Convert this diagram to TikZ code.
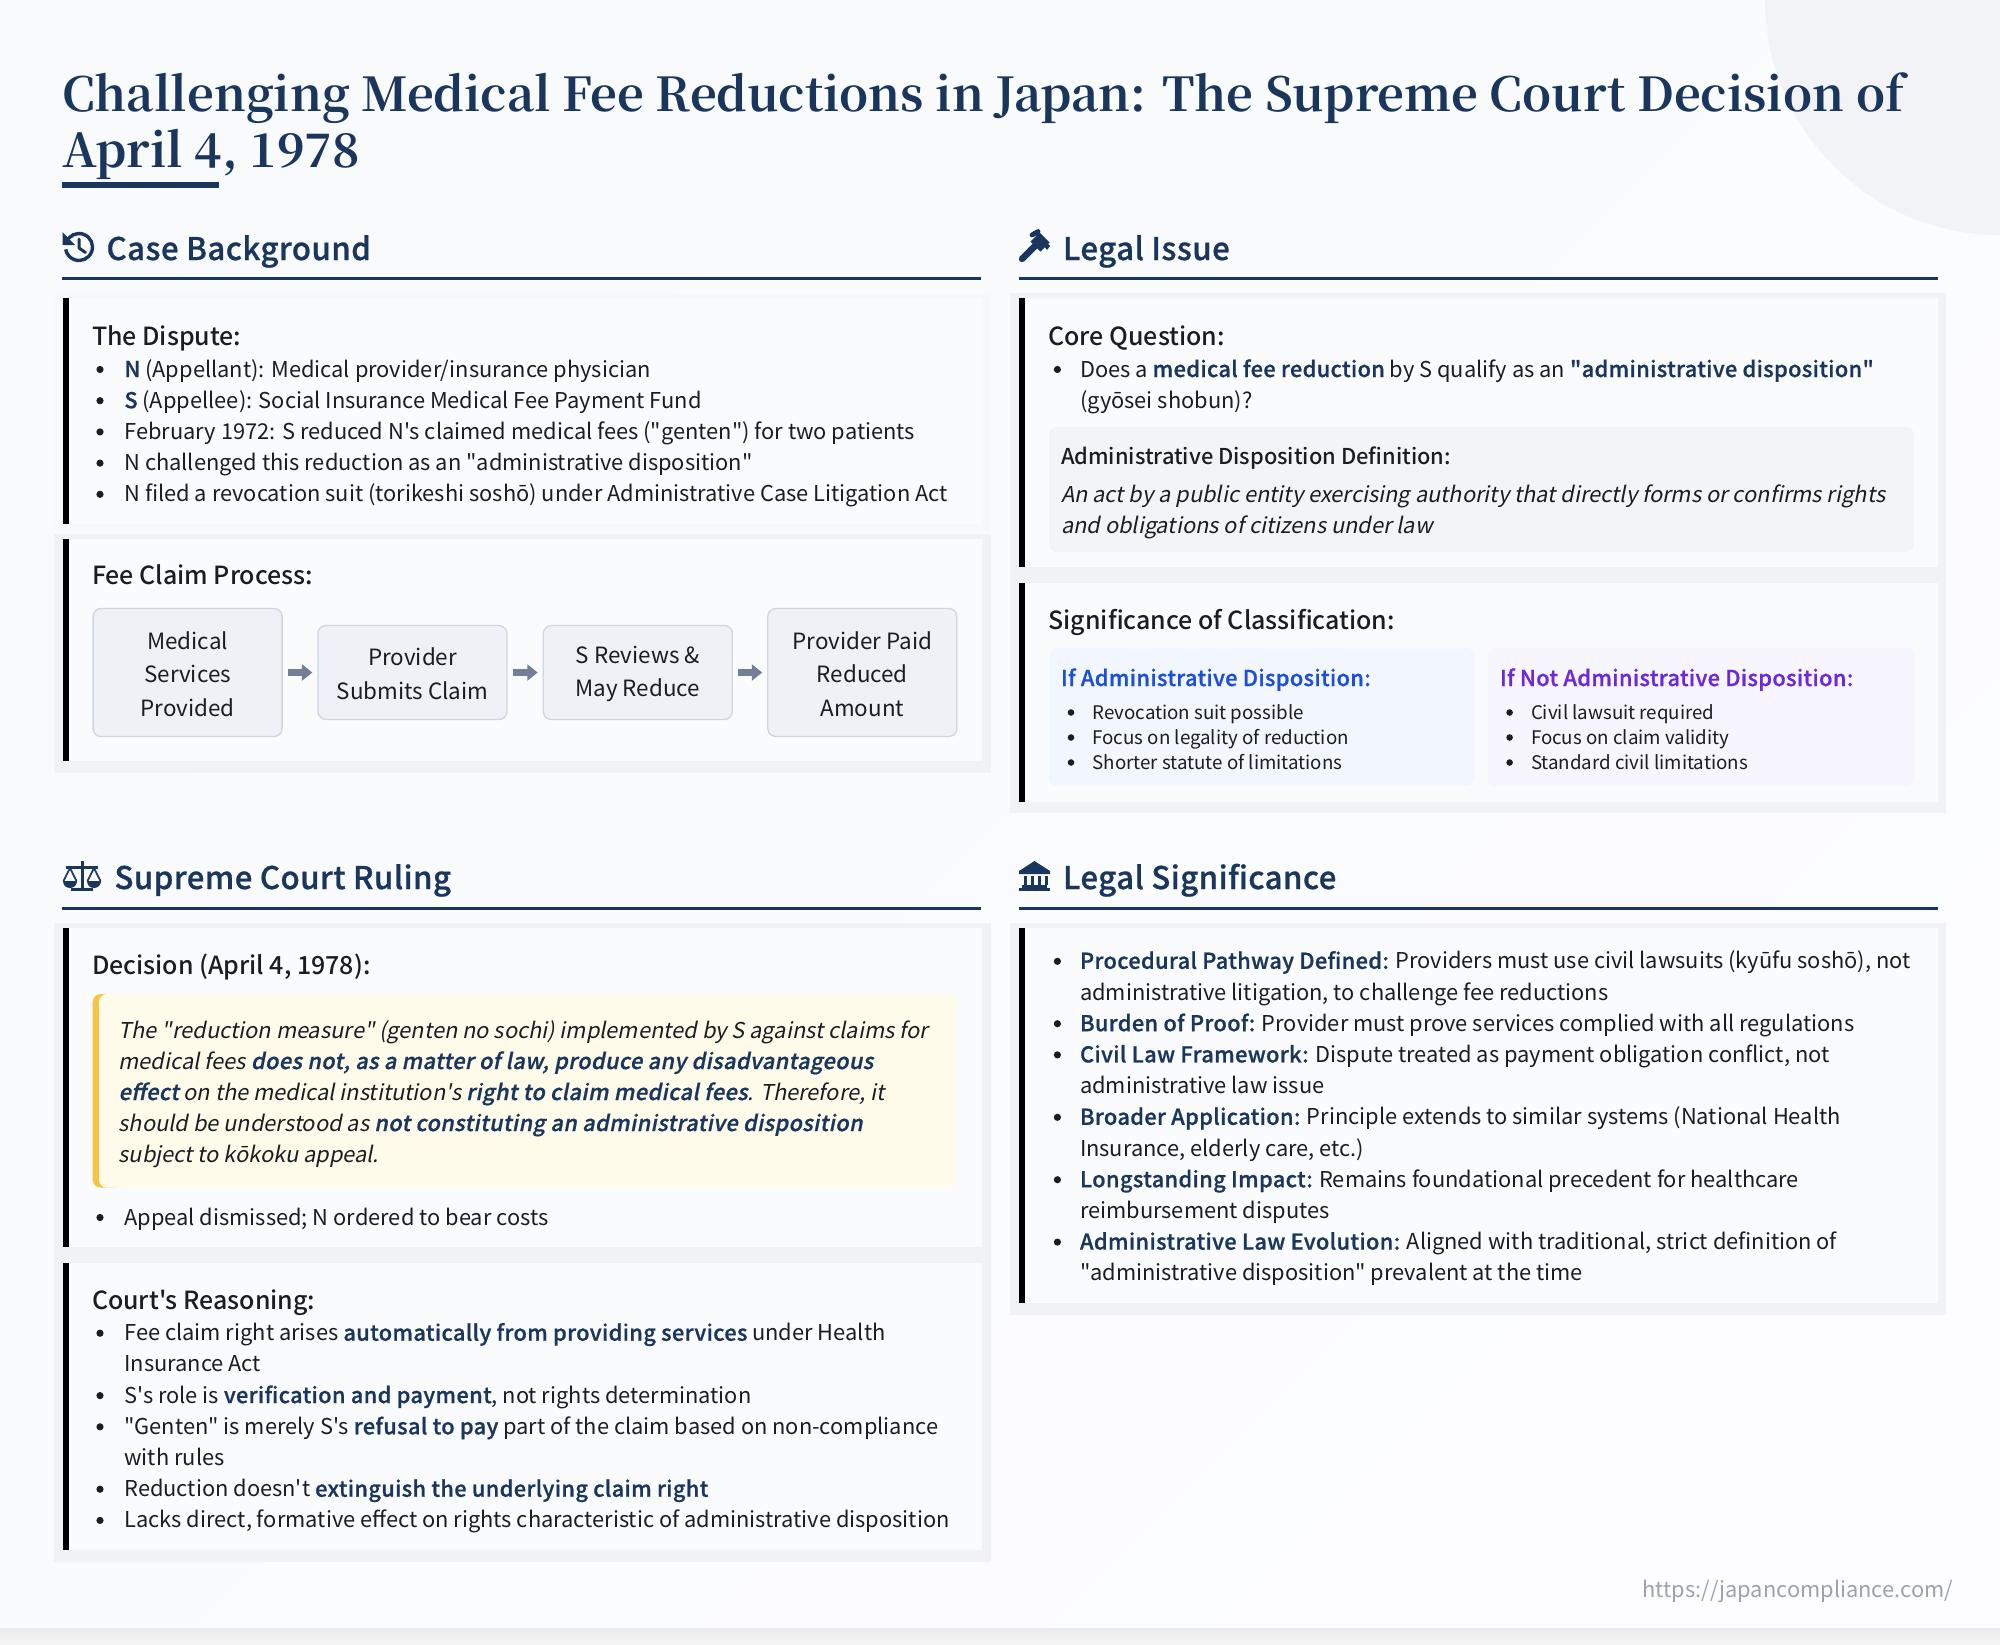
\documentclass[tikz,border=0pt]{standalone}
\usepackage{fontspec}
\usetikzlibrary{arrows.meta}
\newfontfamily\bodyf{Noto Sans CJK JP}
\newfontfamily\itf[FakeSlant=0.2]{Noto Sans CJK JP}
\newfontfamily\mdf{Noto Sans CJK JP Medium}
\newfontfamily\sbf[FakeBold=0.8,LetterSpace=1.5]{Noto Sans CJK JP Medium}
\newfontfamily\sbfit[FakeBold=0.8,FakeSlant=0.2,LetterSpace=1.5]{Noto Sans CJK JP Medium}
\newfontfamily\titf{Noto Serif CJK JP Bold}
\definecolor{navy}{HTML}{1A365D}
\definecolor{ink}{HTML}{1A1D21}
\definecolor{bgA}{HTML}{F8FAFC}
\definecolor{bgB}{HTML}{FDFDFF}
\definecolor{deco}{HTML}{F1F3F7}
\definecolor{band}{HTML}{F1F2F4}
\definecolor{bandl}{HTML}{F7F8FA}
\definecolor{inner}{HTML}{FAFBFC}
\definecolor{flowfill}{HTML}{EEF1F5}
\definecolor{flowline}{HTML}{CFD6E2}
\definecolor{flowarr}{HTML}{718096}
\definecolor{defbg}{HTML}{F3F4F6}
\definecolor{bluebg}{HTML}{F2F6FE}
\definecolor{purpbg}{HTML}{F7F5FE}
\definecolor{bluet}{HTML}{1D4ED8}
\definecolor{purpt}{HTML}{6D28D9}
\definecolor{quotebg}{HTML}{FFFBEB}
\definecolor{quotebar}{HTML}{F6C344}
\definecolor{urlc}{HTML}{9CA3AF}
\tikzset{
  x=0.5pt,y=-0.5pt,
  txt/.style={inner sep=0pt,outer sep=0pt,anchor=base west,text=ink},
  body/.style={txt,font=\bodyf\fontsize{10.92}{15.6}\selectfont},
  slant/.style={txt,font=\itf\fontsize{10.92}{15.6}\selectfont},
  subhead/.style={txt,font=\mdf\fontsize{12.48}{16}\selectfont},
  defhead/.style={txt,font=\mdf\fontsize{10.92}{15.6}\selectfont},
  small/.style={txt,font=\bodyf\fontsize{9.36}{12.5}\selectfont},
  sechead/.style={txt,text=navy,font=\sbf\fontsize{15.6}{20}\selectfont},
  title/.style={txt,text=navy,font=\titf\fontsize{23.37}{28}\selectfont},
  cmphead/.style={txt,font=\sbf\fontsize{10.92}{15.6}\selectfont},
  urlt/.style={txt,anchor=base east,text=urlc,font=\bodyf\fontsize{10.92}{15.6}\selectfont},
  flowbox/.style={draw=flowline,fill=flowfill,line width=0.65pt,rounded corners=4pt,
    inner sep=0pt,minimum width=94.5pt},
  flowtext/.style={inner sep=0pt,align=center,text=ink,yshift=-0.75pt,
    font=\bodyf\fontsize{11.2}{16.8}\selectfont},
  flowarrow/.style={draw=flowarr,line width=3.6pt,-{Triangle[width=8pt,length=5.2pt]},shorten <=2.5pt,shorten >=2.5pt},
}
\newcounter{tn}
\newcommand\Tx[4][body]{\stepcounter{tn}\node[#1] (t\number\value{tn}) at (#2,#3) {#4};}
\newcommand\Ln[5][body]{\fill[ink] (#2,#4-7.5) circle (3.6);\Tx[#1]{#3}{#4}{#5}}
\newcommand\SLn[5][small]{\fill[ink] (#2,#4-6.5) circle (3.3);\Tx[#1]{#3}{#4}{#5}}
\newcommand\B[1]{\textcolor{navy}{\sbf #1}}
\newcommand\BI[1]{\textcolor{navy}{\sbfit #1}}
\newcommand\Card[6]{%band color, x0,y0(top band), x1, ybottom inner, ybottom band
  \fill[#1] (#2-9,#3-5) rectangle (#4+8.5,#6);
  \fill[inner] (#2,#3) rectangle (#4,#5);
  \fill[black] (#2,#3) rectangle (#2+6,#5);
}
\begin{document}
\begin{tikzpicture}
\useasboundingbox (0,0) rectangle (2000,1644);
\clip (0,0) rectangle (2000,1644);
\shade[left color=bgA,right color=bgB,shading angle=45] (0,0) rectangle (2000,1644);
\fill[deco] (2000,0) circle (235);
\shade[top color=black!8,bottom color=bgB!97!black] (0,1628) rectangle (2000,1644);

% title
\Tx[title]{62}{111}{Challenging Medical Fee Reductions in Japan: The Supreme Court Decision of}
\Tx[title]{62}{167}{April 4, 1978}
\fill[navy] (62,182) rectangle (219,188);

% section rules and heads
\Tx[sechead]{106.5}{260}{Case Background}
\fill[navy] (62,277) rectangle (981,280);
\Tx[sechead]{1063}{260}{Legal Issue}
\fill[navy] (1019,277) rectangle (1937.5,280);
\Tx[sechead]{114.5}{889}{Supreme Court Ruling}
\fill[navy] (62,907) rectangle (981,910);
\Tx[sechead]{1063}{889}{Legal Significance}
\fill[navy] (1019,907) rectangle (1937.5,910);

% icon: history
\draw[navy,line width=1.7pt] (79,247) ++(-160:13.5) arc[start angle=-160,end angle=170,radius=13.5];
\fill[navy] (62.5,232) -- (62.5,245) -- (75,245) -- cycle;
\draw[navy,line width=1.5pt,line cap=round,line join=round] (79,239) -- (79,248) -- (85.5,252.5);
% icon: gavel
\draw[navy,line width=3.2pt,line cap=round] (1022,259) -- (1037,244);
\draw[navy,line width=6.5pt] (1035,237) -- (1045,247);
\draw[navy,line width=2.4pt,line cap=round] (1032,235) -- (1038,231.5);
\fill[navy] (1033,231) -- (1037,231) -- (1050,246) -- (1047,250) -- cycle;
% icon: scales
\fill[navy] (80.5,861) rectangle (83.5,889);
\fill[navy] (71,888) rectangle (93,891);
\fill[navy] (66,866) rectangle (98,869);
\draw[navy,line width=0.8pt,line join=round] (63.5,881) -- (70,868) -- (76.5,881);
\draw[navy,line width=0.8pt,line join=round] (87.5,881) -- (94,868) -- (100.5,881);
\fill[navy] (63,881) arc[start angle=180,end angle=0,radius=7] -- cycle;
\fill[navy] (87,881) arc[start angle=180,end angle=0,radius=7] -- cycle;
% icon: landmark
\fill[navy] (1034.5,861) -- (1050,871) -- (1050,874) -- (1019,874) -- (1019,871) -- cycle;
\foreach \cx in {1025,1032,1039,1046}{\fill[navy] (\cx-1.5,875.5) rectangle (\cx+1.5,885);}
\fill[navy] (1022,885) rectangle (1047,887.5);
\fill[navy] (1019,887.5) rectangle (1050,891);

% cards
\Card{bandl}{63}{298}{982}{524}{530}
\Card{band}{63}{539}{982}{761}{773}
\Card{band}{1019}{298}{1937.5}{567}{578}
\Card{band}{1019}{583}{1937.5}{802}{813}
\Card{band}{63}{928}{982}{1247}{1258}
\Card{band}{63}{1263}{982}{1550}{1562}
\Card{band}{1019}{928}{1937.5}{1303}{1315}

% Dispute
\Tx[subhead]{92}{345}{The Dispute:}
\Ln{100}{124.4}{377}{\B{N} (Appellant): Medical provider/insurance physician}
\Ln{100}{124.4}{408.2}{\B{S} (Appellee): Social Insurance Medical Fee Payment Fund}
\Ln{100}{124.4}{439.4}{February 1972: S reduced N's claimed medical fees ("genten") for two patients}
\Ln{100}{124.4}{470.6}{N challenged this reduction as an "administrative disposition"}
\Ln{100}{124.4}{501.8}{N filed a revocation suit (torikeshi soshō) under Administrative Case Litigation Act}

% Fee claim
\Tx[subhead]{92}{584.2}{Fee Claim Process:}
\node[flowbox,minimum height=64pt,label={[flowtext]center:{Medical\\Services\\Provided}}] (f1) at (187.6,672.5) {};
\node[flowbox,minimum height=47pt,label={[flowtext]center:{Provider\\Submits Claim}}] (f2) at (412.5,672.5) {};
\node[flowbox,minimum height=47pt,label={[flowtext]center:{S Reviews \&\\May Reduce}}] (f3) at (637.8,672.5) {};
\node[flowbox,minimum height=64pt,label={[flowtext]center:{Provider Paid\\Reduced\\Amount}}] (f4) at (862.3,672.5) {};
\draw[flowarrow] (f1) -- (f2);
\draw[flowarrow] (f2) -- (f3);
\draw[flowarrow] (f3) -- (f4);

% Core question
\Tx[subhead]{1048.5}{345}{Core Question:}
\Ln{1057.4}{1080}{377}{Does a \B{medical fee reduction} by S qualify as an \B{"administrative disposition"}}
\Tx{1080}{408.2}{(gyōsei shobun)?}
\fill[defbg,rounded corners=4pt] (1049,427) rectangle (1914,552);
\Tx[defhead]{1061}{464}{Administrative Disposition Definition:}
\Tx[slant]{1061}{502}{An act by a public entity exercising authority that directly forms or confirms rights}
\Tx[slant]{1061}{533}{and obligations of citizens under law}

% Significance
\Tx[subhead]{1048.5}{629.2}{Significance of Classification:}
\fill[bluebg,rounded corners=4pt] (1049,648) rectangle (1474.5,786);
\fill[purpbg,rounded corners=4pt] (1488,648) rectangle (1914,786);
\Tx[cmphead,text=bluet]{1061}{686}{If Administrative Disposition:}
\Tx[cmphead,text=purpt]{1500}{686}{If Not Administrative Disposition:}
\SLn{1071}{1092.5}{719}{Revocation suit possible}
\SLn{1071}{1092.5}{744}{Focus on legality of reduction}
\SLn{1071}{1092.5}{769}{Shorter statute of limitations}
\SLn{1509.6}{1531}{719}{Civil lawsuit required}
\SLn{1509.6}{1531}{744}{Focus on claim validity}
\SLn{1509.6}{1531}{769}{Standard civil limitations}

% Decision
\Tx[subhead]{92}{974.2}{Decision (April 4, 1978):}
\begin{scope}
\fill[quotebar,rounded corners=4pt] (92.7,994) rectangle (120,1187.7);
\fill[quotebg,rounded corners=4pt] (99,994) rectangle (957,1187.7);
\end{scope}
\Tx[slant]{118.6}{1038}{The "reduction measure" (genten no sochi) implemented by S against claims for}
\Tx[slant]{118.6}{1069}{medical fees \BI{does not, as a matter of law, produce any disadvantageous}}
\Tx[slant]{118.6}{1100}{\BI{effect} on the medical institution's \BI{right to claim medical fees}. Therefore, it}
\Tx[slant]{118.6}{1131}{should be understood as \BI{not constituting an administrative disposition}}
\Tx[slant]{118.6}{1162}{subject to kōkoku appeal.}
\Ln{100}{124.4}{1225}{Appeal dismissed; N ordered to bear costs}

% Reasoning
\Tx[subhead]{92}{1309}{Court's Reasoning:}
\Ln{100}{124.4}{1340.7}{Fee claim right arises \B{automatically from providing services} under Health}
\Tx{124.4}{1371.9}{Insurance Act}
\Ln{100}{124.4}{1403.1}{S's role is \B{verification and payment}, not rights determination}
\Ln{100}{124.4}{1434.3}{"Genten" is merely S's \B{refusal to pay} part of the claim based on non-compliance}
\Tx{124.4}{1465.5}{with rules}
\Ln{100}{124.4}{1496.7}{Reduction doesn't \B{extinguish the underlying claim right}}
\Ln{100}{124.4}{1527.9}{Lacks direct, formative effect on rights characteristic of administrative disposition}

% Legal significance
\Ln{1057.4}{1080}{968.8}{\B{Procedural Pathway Defined:} Providers must use civil lawsuits (kyūfu soshō), not}
\Tx{1080}{1000}{administrative litigation, to challenge fee reductions}
\Ln{1057.4}{1080}{1031.2}{\B{Burden of Proof:} Provider must prove services complied with all regulations}
\Ln{1057.4}{1080}{1062.4}{\B{Civil Law Framework:} Dispute treated as payment obligation conflict, not}
\Tx{1080}{1093.6}{administrative law issue}
\Ln{1057.4}{1080}{1124.8}{\B{Broader Application:} Principle extends to similar systems (National Health}
\Tx{1080}{1156}{Insurance, elderly care, etc.)}
\Ln{1057.4}{1080}{1187.2}{\B{Longstanding Impact:} Remains foundational precedent for healthcare}
\Tx{1080}{1218.4}{reimbursement disputes}
\Ln{1057.4}{1080}{1249.6}{\B{Administrative Law Evolution:} Aligned with traditional, strict definition of}
\Tx{1080}{1280.8}{"administrative disposition" prevalent at the time}

\Tx[urlt]{1953}{1597.5}{https://japancompliance.com/}
\end{tikzpicture}
\end{document}
